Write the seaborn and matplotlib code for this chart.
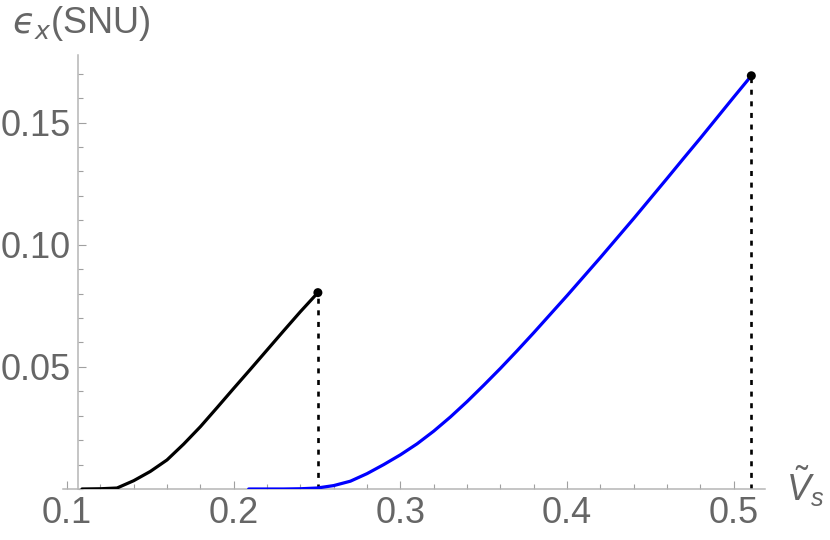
import matplotlib
matplotlib.use("Agg")
import matplotlib.pyplot as plt
from matplotlib.ticker import FixedLocator, MultipleLocator
import seaborn as sns

# values
x_black = [0.109, 0.12, 0.13, 0.14, 0.15, 0.16, 0.17, 0.18, 0.19, 0.20,
           0.21, 0.22, 0.23, 0.24, 0.2505]
y_black = [0.0, 0.0001, 0.0004, 0.0034, 0.0072, 0.0119, 0.0184, 0.0255,
           0.0333, 0.0412, 0.0490, 0.0569, 0.0648, 0.0726, 0.0804]

x_blue = [0.209, 0.22, 0.23, 0.24, 0.25, 0.26, 0.27, 0.28, 0.29, 0.30,
          0.31, 0.32, 0.33, 0.34, 0.35, 0.36, 0.37, 0.38, 0.39, 0.40,
          0.41, 0.42, 0.43, 0.44, 0.45, 0.46, 0.47, 0.48, 0.49, 0.50, 0.5105]
y_blue = [0.0, 0.0, 0.0, 0.0001, 0.0004, 0.0014, 0.0032, 0.0063, 0.0100, 0.0140,
          0.0185, 0.0237, 0.0295, 0.0358, 0.0425, 0.0494, 0.0566, 0.0640, 0.0716, 0.0792,
          0.0870, 0.0948, 0.1028, 0.1108, 0.1190, 0.1272, 0.1355, 0.1437, 0.1521,
          0.1605, 0.1692]

x_ticks = [0.1, 0.2, 0.3, 0.4, 0.5]
x_tick_labels = ["0.1", "0.2", "0.3", "0.4", "0.5"]
y_ticks = [0.05, 0.10, 0.15]
y_tick_labels = ["0.05", "0.10", "0.15"]

sns.set_theme(style="white")
plt.rcParams["font.family"] = ["Liberation Sans", "DejaVu Sans"]
plt.rcParams["mathtext.fontset"] = "custom"
plt.rcParams["mathtext.rm"] = "Liberation Sans"
plt.rcParams["mathtext.it"] = "Liberation Sans:italic"
plt.rcParams["mathtext.fallback"] = "stixsans"

text_gray = "#666666"
axis_gray = "#b5b5b5"

fig = plt.figure(figsize=(8.3, 5.4), dpi=100)
ax = fig.add_axes([63 / 830, 51 / 540, 702 / 830, 434 / 540])

# guide lines from the end points down to the axis
ax.vlines([x_black[-1], x_blue[-1]], 0, [y_black[-1], y_blue[-1]],
          colors="black", linestyles=(0, (1.9, 2.5)), lw=1.9, zorder=2)

sns.lineplot(x=x_black, y=y_black, color="black", lw=2.3, ax=ax,
             estimator=None, sort=False, zorder=3)
sns.lineplot(x=x_blue, y=y_blue, color="#0000ff", lw=2.3, ax=ax,
             estimator=None, sort=False, zorder=3)
sns.scatterplot(x=[x_black[-1], x_blue[-1]], y=[y_black[-1], y_blue[-1]],
                color="black", s=42, edgecolor="none", zorder=5, ax=ax)

ax.set_xlim(0.0976, 0.5187)
ax.set_ylim(0, 0.1777)

for side in ["top", "right"]:
    ax.spines[side].set_visible(False)
ax.spines["left"].set_position(("data", 0.1066))
for side in ["left", "bottom"]:
    ax.spines[side].set_color(axis_gray)
    ax.spines[side].set_linewidth(1.1)

ax.xaxis.set_major_locator(FixedLocator(x_ticks))
ax.xaxis.set_minor_locator(MultipleLocator(0.02))
ax.yaxis.set_major_locator(FixedLocator(y_ticks))
ax.yaxis.set_minor_locator(MultipleLocator(0.01))
ax.set_xticklabels(x_tick_labels)
ax.set_yticklabels(y_tick_labels)

ax.tick_params(which="both", direction="in", bottom=True, left=True,
               color="#a0a0a0", width=0.8)
ax.tick_params(which="major", length=6, labelsize=26, labelcolor=text_gray, pad=5)
ax.tick_params(which="minor", length=3.6)

fig.text(12 / 830, 1 - 33 / 540, "$ϵ_x$(SNU)", fontsize=26,
         color=text_gray, ha="left", va="baseline", math_fontfamily="dejavusans")
fig.text(786 / 830, 1 - 501 / 540, r"$\tilde{V}_s$", fontsize=26,
         color=text_gray, ha="left", va="baseline")

ax.set_xlabel("")
ax.set_ylabel("")
fig.savefig("out.png", dpi=100)
